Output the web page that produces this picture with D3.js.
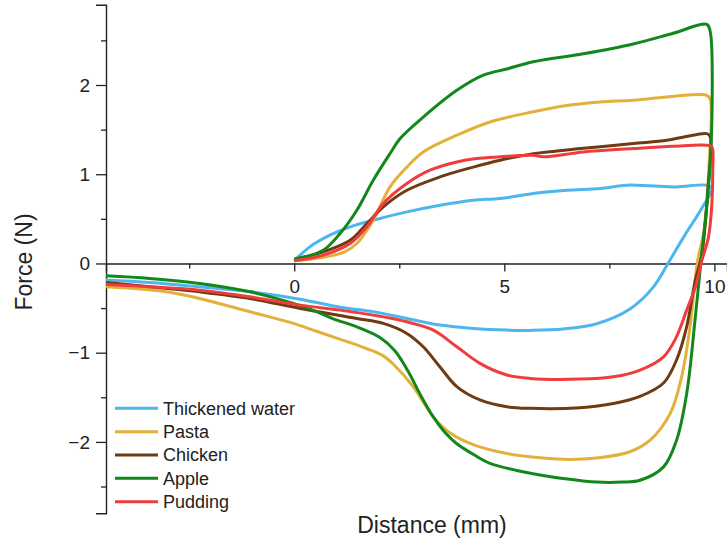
<!DOCTYPE html>
<html>
<head>
<meta charset="utf-8">
<script src="https://cdn.jsdelivr.net/npm/d3@7"></script>
<style>
  body { margin: 0; background: #fff; }
  svg { display: block; font-family: "Liberation Sans", Arial, sans-serif; }
</style>
</head>
<body>
<div id="chart"></div>
<script>
// force-distance loops, [distance mm, force N] in drawing order
var seriesNames = ["Thickened water", "Pasta", "Chicken", "Apple", "Pudding"];
var seriesColors = ["#4db6ec", "#e3b03a", "#6e3b12", "#12871a", "#f03c3c"];

var thickenedWater = [[0,0.03],[0.37,0.186],[0.85,0.317],[1.33,0.41],[1.88,0.485],[2.68,0.578],[3.47,0.653],[4.26,0.709],[4.9,0.728],[5.69,0.784],[6.49,0.82],[7.28,0.84],[7.91,0.877],[8.47,0.87],[9.1,0.858],[9.82,0.877],[9.94,0.84],[9.7,0.62],[9.3,0.32],[8.92,0.02],[8.55,-0.262],[7.99,-0.51],[7.2,-0.675],[6.4,-0.735],[5.61,-0.75],[5.06,-0.747],[4.26,-0.728],[3.47,-0.69],[2.68,-0.616],[1.88,-0.54],[1.09,-0.49],[0.14,-0.4],[-1.05,-0.318],[-2.25,-0.262],[-3.44,-0.213],[-4.5,-0.185]];

var pasta = [[0,0.03],[0.7,0.07],[1.2,0.13],[1.49,0.224],[1.88,0.485],[2.28,0.858],[2.68,1.08],[3.07,1.25],[3.87,1.437],[4.66,1.586],[5.69,1.7],[6.49,1.77],[7.28,1.81],[8.07,1.83],[8.87,1.866],[9.82,1.885],[9.9,1.84],[9.86,1.0],[9.75,0.35],[9.6,0.03],[9.42,-0.71],[9.22,-1.27],[8.95,-1.68],[8.47,-1.98],[7.99,-2.11],[7.2,-2.18],[6.4,-2.195],[5.61,-2.166],[5.06,-2.13],[4.26,-2.03],[3.71,-1.9],[3.31,-1.72],[2.83,-1.38],[2.36,-1.13],[2.1,-1.03],[1.7,-0.95],[1.1,-0.85],[0.53,-0.76],[-0.02,-0.672],[-1.05,-0.542],[-2.25,-0.392],[-3.04,-0.318],[-3.83,-0.28],[-4.5,-0.26]];

var chicken = [[0,0.04],[0.69,0.13],[1.33,0.26],[1.73,0.448],[2.12,0.634],[2.68,0.82],[3.47,0.97],[4.26,1.08],[4.9,1.157],[5.69,1.23],[6.88,1.29],[8.07,1.344],[8.87,1.38],[9.3,1.42],[9.82,1.455],[9.9,1.42],[9.84,0.8],[9.7,0.1],[9.54,-0.2],[9.34,-0.71],[9.1,-1.08],[8.79,-1.34],[8.23,-1.49],[7.6,-1.57],[6.8,-1.617],[5.61,-1.624],[5.06,-1.606],[4.42,-1.53],[3.87,-1.38],[3.47,-1.16],[3.07,-0.934],[2.68,-0.784],[2.12,-0.672],[1.49,-0.616],[0.14,-0.504],[-1.05,-0.392],[-2.25,-0.318],[-3.44,-0.262],[-4.5,-0.213]];

var apple = [[0,0.05],[0.69,0.149],[1.09,0.336],[1.49,0.597],[1.88,0.933],[2.28,1.232],[2.52,1.4],[3.07,1.64],[3.87,1.94],[4.5,2.11],[5.06,2.18],[5.69,2.26],[6.88,2.35],[8.07,2.46],[9.02,2.58],[9.82,2.68],[9.9,2.6],[9.94,1.6],[9.86,0.86],[9.7,0.115],[9.54,-0.63],[9.34,-1.46],[9.1,-1.98],[8.79,-2.28],[8.23,-2.43],[7.8,-2.45],[7.2,-2.45],[6.4,-2.41],[5.85,-2.37],[5.3,-2.32],[4.66,-2.24],[4.3,-2.15],[3.87,-2.02],[3.6,-1.9],[3.31,-1.72],[3.0,-1.47],[2.7,-1.2],[2.4,-0.98],[2.04,-0.83],[1.49,-0.71],[0.93,-0.62],[0.53,-0.54],[-0.02,-0.448],[-1.05,-0.318],[-2.25,-0.224],[-3.44,-0.168],[-4.5,-0.138]];

var pudding = [[0,0.03],[0.69,0.093],[1.33,0.224],[1.73,0.41],[2.12,0.672],[2.68,0.896],[3.23,1.045],[3.87,1.138],[4.34,1.176],[4.9,1.195],[5.69,1.213],[5.93,1.195],[6.88,1.25],[8.07,1.288],[9.02,1.314],[9.82,1.325],[9.94,1.306],[9.96,1.045],[9.94,0.672],[9.86,0.298],[9.7,0.03],[9.55,-0.262],[9.34,-0.523],[9.1,-0.82],[8.79,-1.046],[8.23,-1.195],[7.6,-1.27],[6.8,-1.296],[5.61,-1.288],[5.06,-1.25],[4.42,-1.12],[3.87,-0.934],[3.31,-0.747],[2.68,-0.654],[1.88,-0.579],[1.09,-0.523],[0.14,-0.467],[-1.05,-0.374],[-2.25,-0.299],[-3.44,-0.262],[-4.5,-0.235]];

var allSeries = [thickenedWater, pasta, chicken, apple, pudding];

var xMajor = [0, 5, 10];
var xMinor = [-2.5, 2.5, 7.5];
var yMajor = [-2, -1, 0, 1, 2];
var yMinor = [-2.5, -1.5, -0.5, 0.5, 1.5, 2.5];

var W = 727, H = 544;
var plotLeft = 106, plotRight = 727, plotTop = 4.7, plotBottom = 513.3;

var svg = d3.select("#chart").append("svg")
    .attr("width", W)
    .attr("height", H);

var x = d3.scaleLinear().domain([-4.48, 10.3]).range([plotLeft, plotRight]);
var y = d3.scaleLinear().domain([-2.8, 2.9]).range([plotBottom, plotTop]);

svg.append("clipPath").attr("id", "clip")
  .append("rect")
    .attr("x", plotLeft).attr("y", 0)
    .attr("width", plotRight - plotLeft).attr("height", H);

// y axis, major + minor ticks
svg.append("g")
    .attr("transform", "translate(" + plotLeft + ",0)")
    .call(d3.axisLeft(y).tickValues(yMajor).tickSize(10).tickPadding(6).tickFormat(d3.format("d")));
svg.append("g")
    .attr("transform", "translate(" + plotLeft + ",0)")
    .call(d3.axisLeft(y).tickValues(yMinor).tickSize(5).tickFormat(""))
    .select(".domain").remove();

// x axis sits on force = 0
svg.append("g")
    .attr("transform", "translate(0," + y(0) + ")")
    .call(d3.axisBottom(x).tickValues(xMajor).tickSize(8).tickPadding(8).tickFormat(d3.format("d")));
svg.append("g")
    .attr("transform", "translate(0," + y(0) + ")")
    .call(d3.axisBottom(x).tickValues(xMinor).tickSize(5).tickFormat(""))
    .select(".domain").remove();

svg.selectAll(".domain").attr("stroke", "#222").attr("stroke-width", 1.4);
svg.selectAll(".tick line").attr("stroke", "#222").attr("stroke-width", 1.3);
svg.selectAll(".tick text").attr("fill", "#222").style("font-size", "19px")
    .style("font-family", "'Liberation Sans', Arial, sans-serif");

var line = d3.line()
    .x(function(d) { return x(d[0]); })
    .y(function(d) { return y(d[1]); })
    .curve(d3.curveCatmullRom.alpha(0.5));

svg.append("g").attr("clip-path", "url(#clip)")
  .selectAll("path")
    .data(allSeries)
  .enter().append("path")
    .attr("fill", "none")
    .attr("stroke", function(d, i) { return seriesColors[i]; })
    .attr("stroke-width", 3)
    .attr("stroke-linejoin", "round")
    .attr("d", line);

// axis titles
svg.append("text")
    .attr("x", 432)
    .attr("y", 533)
    .attr("text-anchor", "middle")
    .attr("fill", "#222")
    .style("font-size", "23px")
    .text("Distance (mm)");

svg.append("text")
    .attr("transform", "translate(32,262) rotate(-90)")
    .attr("text-anchor", "middle")
    .attr("fill", "#222")
    .style("font-size", "23px")
    .text("Force (N)");

// legend
var legend = svg.append("g")
    .selectAll("g")
    .data(seriesNames)
  .enter().append("g")
    .attr("transform", function(d, i) { return "translate(115," + (408.3 + i * 23.35) + ")"; });

legend.append("line")
    .attr("x1", 0).attr("x2", 43)
    .attr("stroke", function(d, i) { return seriesColors[i]; })
    .attr("stroke-width", 3);

legend.append("text")
    .attr("x", 48)
    .attr("dy", "0.35em")
    .attr("fill", "#222")
    .style("font-size", "18px")
    .text(function(d) { return d; });
</script>
</body>
</html>
